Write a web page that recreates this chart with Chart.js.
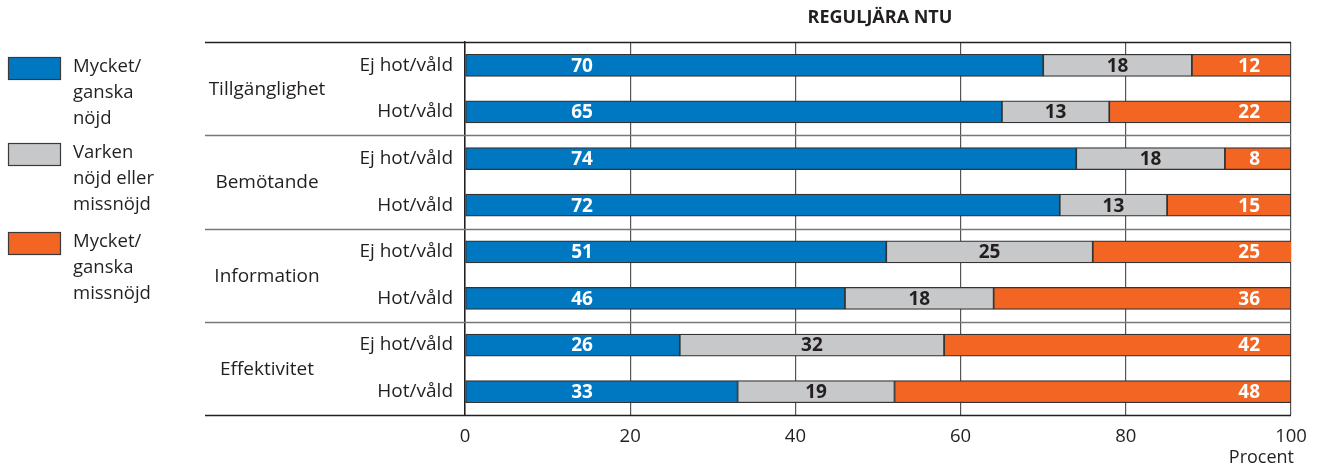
<!DOCTYPE html>
<html lang="sv">
<head>
<meta charset="UTF-8">
<title>Reguljära NTU</title>
<script src="https://cdn.jsdelivr.net/npm/chart.js@4.4.0/dist/chart.umd.min.js"></script>
<style>
  * { margin: 0; padding: 0; box-sizing: border-box; }
  body { width: 1320px; height: 467px; background: #fff; overflow: hidden; }
  #wrap { position: relative; width: 1320px; height: 467px; }
</style>
</head>
<body>
<div id="wrap"><canvas id="chart" width="1320" height="467"></canvas></div>
<script>
const title = 'REGULJÄRA NTU'
const groups = ['Tillgänglighet', 'Bemötande', 'Information', 'Effektivitet']
const rowLabels = ['Ej hot/våld', 'Hot/våld', 'Ej hot/våld', 'Hot/våld', 'Ej hot/våld', 'Hot/våld', 'Ej hot/våld', 'Hot/våld']
const nojd = [70, 65, 74, 72, 51, 46, 26, 33]
const varken = [18, 13, 18, 13, 25, 18, 32, 19]
const missnojd = [12, 22, 8, 15, 25, 36, 42, 48]
const seriesNames = [['Mycket/', 'ganska', 'nöjd'], ['Varken', 'nöjd eller', 'missnöjd'], ['Mycket/', 'ganska', 'missnöjd']]
const xTicks = [0, 20, 40, 60, 80, 100]
const xTitle = 'Procent'

const colors = ['#0077c1', '#c7c8ca', '#f26522']
const FONT = '"Open Sans", "Noto Sans", sans-serif'
const ink = '#231f20'

const extras = {
    id: 'extras',
    afterDraw(chart) {
        const ctx = chart.ctx
        const area = chart.chartArea
        const y = chart.scales.y
        const x = chart.scales.x
        ctx.save()

        // title
        ctx.fillStyle = ink
        ctx.font = 'bold 18px ' + FONT
        ctx.textAlign = 'center'
        ctx.textBaseline = 'middle'
        ctx.fillText(title, 880, 18)

        // horizontal rules: top, group separators, bottom
        const step = (area.bottom - area.top) / rowLabels.length
        ctx.lineWidth = 1.5
        for (let g = 0; g <= groups.length; g++) {
            const yy = Math.round(area.top + g * 2 * step) + 0.5
            ctx.strokeStyle = (g === 0 || g === groups.length) ? '#231f20' : '#777'
            ctx.beginPath()
            ctx.moveTo(205, yy)
            ctx.lineTo(area.right, yy)
            ctx.stroke()
        }

        // group labels
        ctx.fillStyle = ink
        ctx.font = '19px ' + FONT
        ctx.textAlign = 'center'
        groups.forEach((g, i) => {
            const yy = (y.getPixelForValue(i * 2) + y.getPixelForValue(i * 2 + 1)) / 2 + 1
            ctx.fillText(g, 267, yy)
        })

        // value labels
        ctx.font = 'bold 19px ' + FONT
        for (let i = 0; i < rowLabels.length; i++) {
            const yy = y.getPixelForValue(i) + 1
            ctx.fillStyle = '#fff'
            ctx.textAlign = 'center'
            ctx.fillText(nojd[i], area.left + 117, yy)
            ctx.fillStyle = ink
            const gx = (x.getPixelForValue(nojd[i]) + x.getPixelForValue(nojd[i] + varken[i])) / 2
            ctx.fillText(varken[i], gx, yy)
            ctx.fillStyle = '#fff'
            ctx.textAlign = 'right'
            ctx.fillText(missnojd[i], area.right - 31, yy)
        }

        // x title
        ctx.fillStyle = ink
        ctx.font = '18px ' + FONT
        ctx.textAlign = 'right'
        ctx.fillText(xTitle, 1294, 458)

        // legend
        const boxY = [57, 143, 232]
        seriesNames.forEach((lines, i) => {
            ctx.fillStyle = colors[i]
            ctx.fillRect(8, boxY[i], 52, 22)
            ctx.strokeStyle = '#3a3a3a'
            ctx.lineWidth = 1.2
            ctx.strokeRect(8.5, boxY[i] + 0.5, 52, 22)
            ctx.fillStyle = ink
            ctx.font = '18.5px ' + FONT
            ctx.textAlign = 'left'
            lines.forEach((t, j) => ctx.fillText(t, 73, boxY[i] + 10 + j * 26))
        })
        ctx.restore()
    }
}

const mk = (label, data, i) => ({
    label: label.join(' '),
    data: data,
    backgroundColor: colors[i],
    borderColor: '#333',
    borderWidth: 1.2,
    borderSkipped: false,
    barThickness: 22
})

new Chart(document.getElementById('chart'), {
    type: 'bar',
    data: {
        labels: rowLabels,
        datasets: [mk(seriesNames[0], nojd, 0), mk(seriesNames[1], varken, 1), mk(seriesNames[2], missnojd, 2)]
    },
    options: {
        indexAxis: 'y',
        responsive: false,
        animation: false,
        devicePixelRatio: 1,
        layout: { padding: { top: 42, right: 29, left: 0, bottom: 0 } },
        plugins: { legend: { display: false }, tooltip: { enabled: false } },
        scales: {
            x: {
                stacked: true,
                min: 0, max: 100,
                afterBuildTicks: s => { s.ticks = xTicks.map(v => ({ value: v })) },
                afterFit: s => { s.height = 52 },
                grid: { color: '#555', lineWidth: 1.2, drawTicks: false },
                border: { display: false },
                ticks: { color: ink, font: { family: FONT, size: 18.5 }, padding: 11 }
            },
            y: {
                stacked: true,
                afterFit: s => { s.width = 465 },
                grid: { display: false, drawTicks: false },
                border: { color: '#231f20', width: 1.5 },
                ticks: { color: ink, font: { family: FONT, size: 19 }, padding: 12 }
            }
        }
    },
    plugins: [extras]
})
</script>
</body>
</html>
